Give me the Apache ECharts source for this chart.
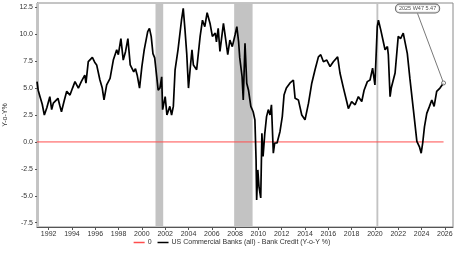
<!DOCTYPE html>
<html><head><meta charset="utf-8">
<script src="https://cdn.jsdelivr.net/npm/echarts@6/dist/echarts.min.js"></script>
<style>html,body{margin:0;padding:0;background:#fff}#c{width:464px;height:254px}</style>
</head><body><div id="c"></div>
<script>
// decimal years and Y-o-Y % values
var years = [1991.00,1991.10,1991.26,1991.45,1991.63,1991.85,1992.10,1992.26,1992.40,1992.55,1992.80,1992.95,1993.10,1993.35,1993.55,1993.83,1994.05,1994.26,1994.55,1994.80,1995.10,1995.20,1995.40,1995.55,1995.75,1995.95,1996.12,1996.40,1996.60,1996.75,1996.98,1997.27,1997.55,1997.84,1997.98,1998.20,1998.40,1998.60,1998.80,1999.00,1999.30,1999.45,1999.60,1999.80,2000.00,2000.20,2000.50,2000.65,2000.80,2000.95,2001.10,2001.40,2001.55,2001.70,2001.78,2002.00,2002.15,2002.40,2002.55,2002.70,2002.85,2003.10,2003.40,2003.55,2003.70,2003.85,2004.00,2004.15,2004.30,2004.42,2004.70,2005.00,2005.20,2005.40,2005.60,2005.85,2006.05,2006.30,2006.40,2006.55,2006.70,2007.00,2007.10,2007.37,2007.55,2007.76,2008.00,2008.15,2008.30,2008.40,2008.60,2008.70,2008.85,2009.00,2009.15,2009.35,2009.55,2009.70,2009.80,2009.85,2009.95,2010.05,2010.20,2010.30,2010.40,2010.55,2010.70,2010.85,2011.00,2011.12,2011.28,2011.40,2011.60,2011.85,2012.05,2012.20,2012.40,2012.70,2013.00,2013.15,2013.43,2013.72,2014.00,2014.30,2014.58,2014.86,2015.15,2015.35,2015.58,2015.87,2016.15,2016.43,2016.80,2017.00,2017.30,2017.58,2017.72,2018.00,2018.30,2018.58,2018.87,2019.07,2019.35,2019.58,2019.80,2020.00,2020.10,2020.20,2020.30,2020.50,2020.72,2020.87,2021.07,2021.15,2021.30,2021.40,2021.53,2021.73,2022.00,2022.20,2022.43,2022.60,2022.78,2023.00,2023.30,2023.60,2023.82,2023.97,2024.10,2024.25,2024.45,2024.68,2024.88,2025.08,2025.30,2025.58,2025.89];
var credit = [5.6,4.8,4.2,3.5,2.5,3.2,4.2,3.0,3.6,3.75,4.05,3.4,2.8,3.9,4.7,4.35,5.0,5.6,5.0,5.6,6.2,5.45,7.45,7.6,7.85,7.4,7.15,5.75,5.0,3.9,5.3,5.9,7.6,8.55,8.1,9.6,7.6,8.4,9.6,7.15,6.5,6.8,6.2,5.0,7.0,8.55,10.25,10.55,9.8,8.2,7.8,4.8,5.0,6.05,3.0,4.2,2.5,3.3,2.5,3.3,6.7,8.55,11.3,12.4,10.4,8.2,5.0,6.85,8.55,7.15,6.7,9.8,11.3,10.7,12.0,11.0,9.8,10.1,9.3,10.55,8.4,11.0,10.25,8.1,9.45,8.85,9.95,10.7,9.3,7.8,6.05,3.9,9.15,5.45,4.8,3.3,2.8,2.05,-1.65,-5.4,-2.6,-4.15,-5.2,0.8,-1.35,0.8,2.35,3.0,2.5,3.45,-1.05,-0.1,-0.1,0.95,2.35,4.35,5.0,5.45,5.75,4.05,3.9,2.5,2.05,3.6,5.45,6.7,7.9,8.1,7.45,7.6,7.0,7.45,7.9,6.4,5.0,3.75,3.1,3.75,3.45,4.2,3.75,4.8,5.6,5.75,6.85,5.3,5.15,10.7,11.3,10.4,9.3,8.55,8.85,8.1,4.2,5.0,5.15,6.4,9.8,9.6,10.1,10.1,8.2,5.9,3.0,0.05,-0.45,-1.05,-0.1,1.4,2.65,3.3,3.9,3.3,4.7,5.0,5.47];
var recessions = [[1990.9,1991.17],[2001.17,2001.83],[2007.92,2009.5],[2020.13,2020.29]];
var xTicks = [1992,1994,1996,1998,2000,2002,2004,2006,2008,2010,2012,2014,2016,2018,2020,2022,2024,2026];
var yTicks = [-7.5,-5.0,-2.5,0.0,2.5,5.0,7.5,10.0,12.5];
var lastLabel = '2025 W47 5.47';

var creditData = years.map(function(y,i){return [y, credit[i]];});
var zeroData = [[years[0],0],[years[years.length-1],0]];
var font = 'Liberation Sans, Arial, sans-serif';

var chart = echarts.init(document.getElementById('c'));
chart.setOption({
  animation:false,
  grid:{left:37,right:11,top:3,bottom:27,show:true,borderColor:'#8a8a8a',borderWidth:1,
    containLabel:false,outerBoundsMode:'none'},
  legend:{bottom:3,left:'center',itemWidth:11,itemHeight:1.5,itemGap:6,icon:'rect',
    textStyle:{fontSize:7,fontFamily:font,color:'#333',padding:[0,0,0,-2]},
    data:['0','US Commercial Banks (all) - Bank Credit (Y-o-Y %)']},
  xAxis:{type:'value',min:1991.0,max:2026.7,
    axisLine:{show:true,onZero:false,lineStyle:{color:'#555'}},
    axisTick:{show:true,length:3,customValues:xTicks,lineStyle:{color:'#555'}},
    axisLabel:{customValues:xTicks,fontSize:7,fontFamily:font,color:'#333',margin:4,
      formatter:function(v){return String(v);}},
    splitLine:{show:false}},
  yAxis:{type:'value',min:-7.9,max:12.9,name:'Y-o-Y%',nameLocation:'middle',nameGap:25,
    nameTextStyle:{fontSize:7,fontFamily:font,color:'#333'},
    axisLine:{show:true,onZero:false,lineStyle:{color:'#777'}},
    axisTick:{show:true,length:2,customValues:yTicks,lineStyle:{color:'#555'}},
    axisLabel:{customValues:yTicks,fontSize:7,fontFamily:font,color:'#333',margin:4,
      formatter:function(v){return v.toFixed(1);}},
    splitLine:{show:false}},
  series:[
    {name:'0',type:'line',data:zeroData,symbol:'none',z:3,
      lineStyle:{color:'#ff4d4d',width:1},itemStyle:{color:'#ff4d4d'},
      markArea:{silent:true,itemStyle:{color:'#c3c3c3'},
        data:recessions.map(function(r){return [{xAxis:r[0]},{xAxis:r[1]}];})}},
    {name:'US Commercial Banks (all) - Bank Credit (Y-o-Y %)',type:'line',data:creditData,
      symbol:'none',z:4,lineStyle:{color:'#000',width:1.7},itemStyle:{color:'#000'}},
    {type:'scatter',data:[creditData[creditData.length-1]],symbol:'circle',symbolSize:4,z:5,
      itemStyle:{color:'#fff',borderColor:'#555',borderWidth:1},
      label:{show:true,position:'top',formatter:lastLabel,fontSize:5.5,fontFamily:font,color:'#222',
        backgroundColor:'#fff',borderColor:'#444',borderWidth:1,borderRadius:5,padding:[1,3]},
      labelLayout:{dx:-26,dy:-63},
      labelLine:{show:true,lineStyle:{color:'#555',width:0.8}}}
  ]
});
</script></body></html>
